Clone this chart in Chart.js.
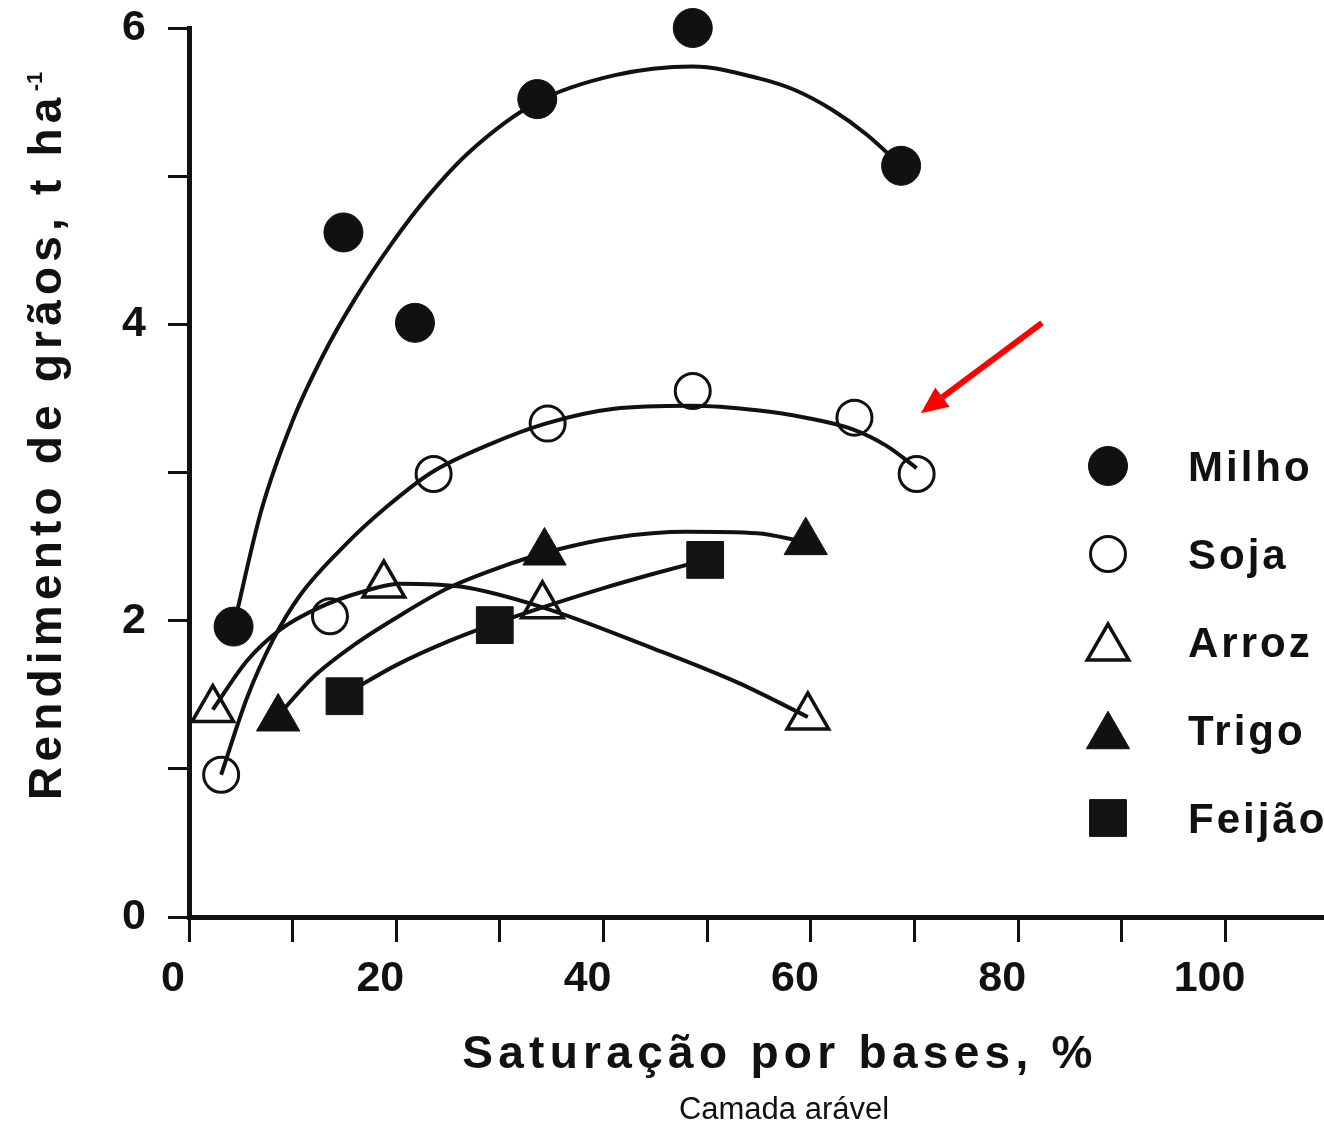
<!DOCTYPE html>
<html>
<head>
<meta charset="utf-8">
<title>Rendimento de grãos x Saturação por bases</title>
<script src="https://cdn.jsdelivr.net/npm/chart.js@4.4.1/dist/chart.umd.min.js"></script>
<style>
    html, body { margin: 0; padding: 0; background: #fff; }
    #wrap { position: relative; width: 1324px; height: 1123px; }
</style>
</head>
<body>
<div id="wrap"><canvas id="grafico"></canvas></div>
<script>
// observed yields, t/ha, against base saturation, %
const milhoX = [4.3, 14.9, 21.8, 33.6, 48.6, 68.7];
const milhoY = [1.96, 4.62, 4.01, 5.52, 6.0, 5.07];
const sojaX = [3.1, 13.6, 23.6, 34.6, 48.6, 64.2, 70.2];
const sojaY = [0.96, 2.03, 2.99, 3.33, 3.55, 3.37, 2.99];
const arrozX = [2.3, 18.8, 34.1, 59.7];
const arrozY = [1.40, 2.24, 2.10, 1.35];
const trigoX = [8.6, 34.3, 59.5];
const trigoY = [1.34, 2.46, 2.53];
const feijaoX = [15.0, 29.5, 49.8];
const feijaoY = [1.49, 1.97, 2.41];

// response curves
const milhoCurvaX = [4.3, 7, 10, 13, 16, 19.5, 23, 27, 33.6, 41, 48.6, 55, 58.5, 62, 65.4, 68.7];
const milhoCurvaY = [1.96, 2.75, 3.35, 3.80, 4.17, 4.54, 4.86, 5.16, 5.50, 5.68, 5.74, 5.66, 5.58, 5.45, 5.28, 5.07];
const sojaCurvaX = [3.1, 5.6, 8.1, 10.7, 15.2, 19.1, 23.4, 29, 34.4, 41, 48.4, 54.8, 59.5, 64.1, 67.3, 70.2];
const sojaCurvaY = [0.96, 1.48, 1.87, 2.17, 2.52, 2.77, 3.0, 3.19, 3.33, 3.43, 3.45, 3.42, 3.37, 3.29, 3.18, 3.03];
const arrozCurvaX = [2.3, 5.6, 8.8, 12.6, 16.5, 20.3, 26.2, 34.1, 44.5, 53, 59.7];
const arrozCurvaY = [1.40, 1.73, 1.94, 2.09, 2.19, 2.25, 2.23, 2.09, 1.82, 1.58, 1.35];
const trigoCurvaX = [8.6, 12, 16, 20, 25, 30, 35, 41, 48, 54.8, 59.5];
const trigoCurvaY = [1.36, 1.62, 1.84, 2.02, 2.22, 2.36, 2.47, 2.56, 2.60, 2.59, 2.53];
const feijaoCurvaX = [15, 20, 25, 29.5, 35, 40, 45, 49.8];
const feijaoCurvaY = [1.50, 1.70, 1.86, 1.98, 2.11, 2.22, 2.32, 2.41];

const xTickValues = [0, 10, 20, 30, 40, 50, 60, 70, 80, 90, 100];
const xTickLabels = ['0', '', '20', '', '40', '', '60', '', '80', '', '100'];
const yTickValues = [0, 1, 2, 3, 4, 5, 6];
const yTickLabels = ['0', '', '2', '', '4', '', '6'];

const culturas = ['Milho', 'Soja', 'Arroz', 'Trigo', 'Feijão'];

// arrow pointing at the soybean curve (x, y in data units)
const setaInicio = [82.3, 4.01];
const setaFim = [70.6, 3.40];

const FONTE = 'Arial, "Liberation Sans", Helvetica, sans-serif';
const PRETO = '#111';

const pares = (xs, ys) => xs.map((v, i) => ({x: v, y: ys[i]}));

const estilos = [
    {pointStyle: 'circle', pointRadius: 19.5, pointBackgroundColor: PRETO, pointBorderWidth: 1},
    {pointStyle: 'circle', pointRadius: 17.5, pointBackgroundColor: 'rgba(0,0,0,0)', pointBorderWidth: 3},
    {pointStyle: 'triangle', pointRadius: 24, pointBackgroundColor: 'rgba(0,0,0,0)', pointBorderWidth: 3.5},
    {pointStyle: 'triangle', pointRadius: 25, pointBackgroundColor: PRETO, pointBorderWidth: 1},
    {pointStyle: 'rect', pointRadius: 26, pointBackgroundColor: '#141414', pointBorderWidth: 1}
];

const pontos = [
    pares(milhoX, milhoY), pares(sojaX, sojaY), pares(arrozX, arrozY),
    pares(trigoX, trigoY), pares(feijaoX, feijaoY)
];
const curvas = [
    pares(milhoCurvaX, milhoCurvaY), pares(sojaCurvaX, sojaCurvaY), pares(arrozCurvaX, arrozCurvaY),
    pares(trigoCurvaX, trigoCurvaY), pares(feijaoCurvaX, feijaoCurvaY)
];

const datasets = [];
culturas.forEach((nome, i) => {
    datasets.push(Object.assign({
        label: nome,
        data: pontos[i],
        showLine: false,
        clip: false,
        pointBorderColor: PRETO,
        pointHoverRadius: estilos[i].pointRadius
    }, estilos[i]));
});
culturas.forEach((nome, i) => {
    datasets.push({
        label: nome + ' (curva)',
        data: curvas[i],
        showLine: true,
        borderColor: PRETO,
        borderWidth: 4,
        cubicInterpolationMode: 'monotone',
        pointRadius: 0,
        pointHoverRadius: 0,
        fill: false
    });
});

function texto(ctx, str, x, y, fonte, espaco, align) {
    ctx.font = fonte;
    ctx.letterSpacing = espaco + 'px';
    ctx.textAlign = align || 'left';
    ctx.textBaseline = 'alphabetic';
    ctx.fillText(str, x, y);
    ctx.letterSpacing = '0px';
}

const extras = {
    id: 'extras',
    afterDraw(chart) {
        const {ctx, chartArea, scales: {x, y}} = chart;
        ctx.save();
        ctx.fillStyle = PRETO;

        // axis titles
        texto(ctx, 'Saturação por bases, %', 780, 1068, 'bold 46px ' + FONTE, 5.3, 'center');
        texto(ctx, 'Camada arável', 784, 1119, '31px ' + FONTE, 0, 'center');

        ctx.save();
        ctx.translate(61, 800);
        ctx.rotate(-Math.PI / 2);
        const titulo = 'Rendimento de grãos, t ha';
        texto(ctx, titulo, 0, 0, 'bold 46px ' + FONTE, 5.2);
        ctx.font = 'bold 46px ' + FONTE;
        ctx.letterSpacing = '5.2px';
        const w = ctx.measureText(titulo).width;
        texto(ctx, '-1', w + 1, -19, 'bold 22px ' + FONTE, 0);
        ctx.restore();

        // legend
        const lx = chartArea.right - 216;
        const tx = chartArea.right - 136;
        culturas.forEach((nome, i) => {
            const ly = chartArea.top + 438 + i * 88;
            const ds = chart.data.datasets[i];
            const ajuste = ds.pointStyle === 'triangle' ? ds.pointRadius / 4 : 0;
            ctx.fillStyle = ds.pointBackgroundColor;
            ctx.strokeStyle = PRETO;
            ctx.lineWidth = ds.pointBorderWidth;
            Chart.helpers.drawPoint(ctx, {
                pointStyle: ds.pointStyle, radius: ds.pointRadius,
                rotation: 0, borderWidth: ds.pointBorderWidth
            }, lx, ly + ajuste);
            ctx.fillStyle = PRETO;
            texto(ctx, nome, tx, ly + 15, 'bold 42px ' + FONTE, 3);
        });

        // red arrow
        const x0 = x.getPixelForValue(setaInicio[0]), y0 = y.getPixelForValue(setaInicio[1]);
        const x1 = x.getPixelForValue(setaFim[0]), y1 = y.getPixelForValue(setaFim[1]);
        const ang = Math.atan2(y1 - y0, x1 - x0);
        const cab = 27, meia = 12;
        const bx = x1 - cab * Math.cos(ang), by = y1 - cab * Math.sin(ang);
        ctx.strokeStyle = '#ff0000';
        ctx.fillStyle = '#ff0000';
        ctx.lineWidth = 6;
        ctx.beginPath();
        ctx.moveTo(x0, y0);
        ctx.lineTo(bx, by);
        ctx.stroke();
        ctx.beginPath();
        ctx.moveTo(x1, y1);
        ctx.lineTo(bx + meia * Math.sin(ang), by - meia * Math.cos(ang));
        ctx.lineTo(bx - meia * Math.sin(ang), by + meia * Math.cos(ang));
        ctx.closePath();
        ctx.fill();

        ctx.restore();
    }
};

Chart.defaults.font.family = FONTE;
Chart.defaults.color = PRETO;

new Chart(document.getElementById('grafico'), {
    type: 'scatter',
    data: {datasets: datasets},
    options: {
        responsive: true,
        maintainAspectRatio: false,
        animation: false,
        layout: {autoPadding: false, padding: {top: 28, right: 0, bottom: 0, left: 0}},
        plugins: {legend: {display: false}, tooltip: {enabled: false}},
        scales: {
            x: {
                type: 'linear',
                min: 0,
                max: 109.5,
                afterBuildTicks: s => { s.ticks = xTickValues.map(v => ({value: v})); },
                afterFit: s => { s.height = 206; s.paddingLeft = 0; s.paddingRight = 0; },
                border: {display: true, color: PRETO, width: 5},
                grid: {drawOnChartArea: false, drawTicks: true, tickLength: 25, tickWidth: 3, tickColor: PRETO},
                ticks: {
                    autoSkip: false,
                    maxRotation: 0,
                    padding: 11,
                    labelOffset: -16,
                    font: {size: 43, weight: 'bold'},
                    callback: (v, i) => xTickLabels[i]
                }
            },
            y: {
                type: 'linear',
                min: 0,
                max: 6,
                afterBuildTicks: s => { s.ticks = yTickValues.map(v => ({value: v})); },
                afterFit: s => { s.width = 189; s.paddingTop = 0; s.paddingBottom = 0; },
                border: {display: true, color: PRETO, width: 5},
                grid: {drawOnChartArea: false, drawTicks: true, tickLength: 21, tickWidth: 3, tickColor: PRETO},
                ticks: {
                    autoSkip: false,
                    padding: 22,
                    font: {size: 43, weight: 'bold'},
                    callback: (v, i) => yTickLabels[i]
                }
            }
        }
    },
    plugins: [extras]
});
</script>
</body>
</html>
